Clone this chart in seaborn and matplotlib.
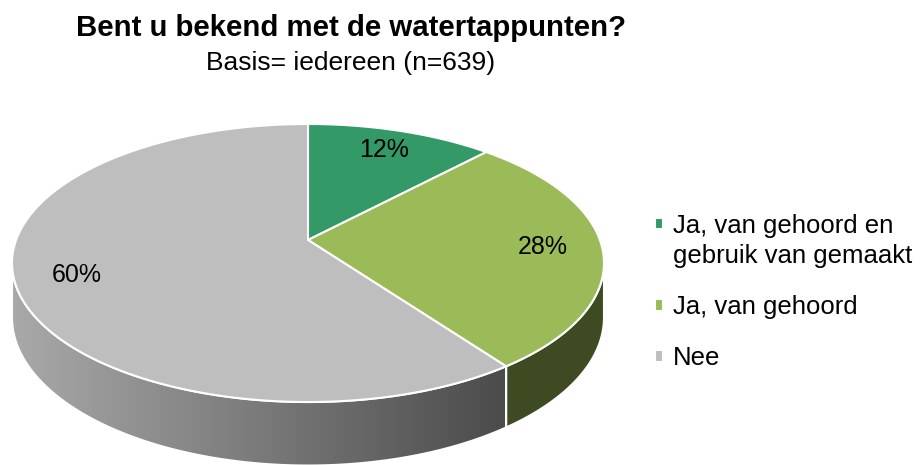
import numpy as np
import matplotlib.pyplot as plt
import matplotlib.colors as mcolors
from matplotlib.patches import Polygon, Rectangle
from matplotlib.legend_handler import HandlerPatch
import seaborn as sns

labels = ['Ja, van gehoord en\ngebruik van gemaakt', 'Ja, van gehoord', 'Nee']
percentages = [12, 28, 60]
top_colors = ['#339966', '#9BBB59', '#BEBEBE']
side_colors = ['#1F5C3D', '#3E4A22', 'gradient']
title = 'Bent u bekend met de watertappunten?'
subtitle = 'Basis= iedereen (n=639)'

sns.set_theme(style='white', rc={'text.color': 'black'})
plt.rcParams['font.family'] = ['Liberation Sans', 'DejaVu Sans']

fig = plt.figure(figsize=(9.23, 4.65), dpi=100)
ax = fig.add_axes([0, 0, 1, 1])

# perspective of the tilted pie, in pixels around the apex
persp = 0.1655
half_h = 135.2
half_w = 291.9
depth = 53


def project(x, y, z=0.0):
    f = 1.0 / (1.0 + persp * y)
    return half_w * x * f, (half_h * y - depth * z) * f


wedges, texts, autotexts = ax.pie(
    percentages, startangle=90, counterclock=False,
    autopct='%1.0f%%', pctdistance=0.8,
    textprops=dict(fontsize=18, color='black'))

tops = []
for w, col in zip(wedges, top_colors):
    w.set_visible(False)
    th = np.radians(np.linspace(w.theta1, w.theta2, 300))
    xs = np.concatenate([[w.center[0]], w.center[0] + w.r * np.cos(th)])
    ys = np.concatenate([[w.center[1]], w.center[1] + w.r * np.sin(th)])
    px, py = project(xs, ys)
    poly = Polygon(np.column_stack([px, py]), closed=True, facecolor=col,
                   edgecolor='white', lw=1.5, zorder=3)
    ax.add_patch(poly)
    tops.append(poly)

for t in autotexts:
    x, y = t.get_position()
    t.set_position(project(x, y))
    t.set_zorder(4)

# visible front wall of the cylinder
edge = np.degrees(np.arcsin(persp))
lo, hi = -180 + edge, -edge
grey_cmap = mcolors.LinearSegmentedColormap.from_list('side', ['#A9A9A9', '#4B4B4B'])
for w, sc in zip(wedges, side_colors):
    t1, t2 = w.theta1, w.theta2
    ts = np.concatenate([np.linspace(lo, hi, 500), [t1, t2, t1 - 360, t2 - 360]])
    ts = np.unique(ts[(ts >= lo) & (ts <= hi)])
    rel = (ts - t1) % 360
    ts = ts[(rel <= (t2 - t1) + 1e-9) | np.isclose(rel, 360)]
    if len(ts) < 2:
        continue
    r = np.radians(ts)
    tx, ty = project(np.cos(r), np.sin(r))
    bx, by = project(np.cos(r[::-1]), np.sin(r[::-1]), 1.0)
    pts = np.column_stack([np.concatenate([tx, bx]), np.concatenate([ty, by])])
    if sc == 'gradient':
        poly = Polygon(pts, closed=True, facecolor='none', edgecolor='white', lw=1.5, zorder=2)
        ax.add_patch(poly)
        grad = np.linspace(0, 1, 256).reshape(1, -1)
        im = ax.imshow(grad, cmap=grey_cmap, extent=[pts[:, 0].min(), pts[:, 0].max(), pts[:, 1].min(), 0],
                       aspect='auto', zorder=1, interpolation='bilinear')
        im.set_clip_path(poly)
    else:
        ax.add_patch(Polygon(pts, closed=True, facecolor=sc, edgecolor='white', lw=1.5, zorder=2))

ax.set_aspect('auto')
ax.set_xlim(-308, 615)
ax.set_ylim(-225, 240)
ax.axis('off')

fig.text(351 / 923, 1 - 36 / 465, title, ha='center', va='baseline', fontsize=21.2, fontweight='bold')
fig.text(351 / 923, 1 - 70 / 465, subtitle, ha='center', va='baseline', fontsize=19)


def square(legend, orig_handle, xdescent, ydescent, width, height, fontsize):
    return Rectangle((-xdescent, -ydescent), width, height)


def raised_square(legend, orig_handle, xdescent, ydescent, width, height, fontsize):
    return Rectangle((-xdescent, -ydescent + 0.68 * fontsize), width, height)


leg = fig.legend(tops, labels, loc='center left', bbox_to_anchor=(655 / 923, 0.372), frameon=False,
                 fontsize=18.5, handlelength=0.3, handleheight=0.3, handletextpad=0.4,
                 labelspacing=1.05, borderpad=0, borderaxespad=0,
                 handler_map={tops[0]: HandlerPatch(patch_func=raised_square),
                              tops[1]: HandlerPatch(patch_func=square),
                              tops[2]: HandlerPatch(patch_func=square)})
for t in leg.get_texts():
    t.set_linespacing(1.35)

fig.savefig('out.png', dpi=100)
